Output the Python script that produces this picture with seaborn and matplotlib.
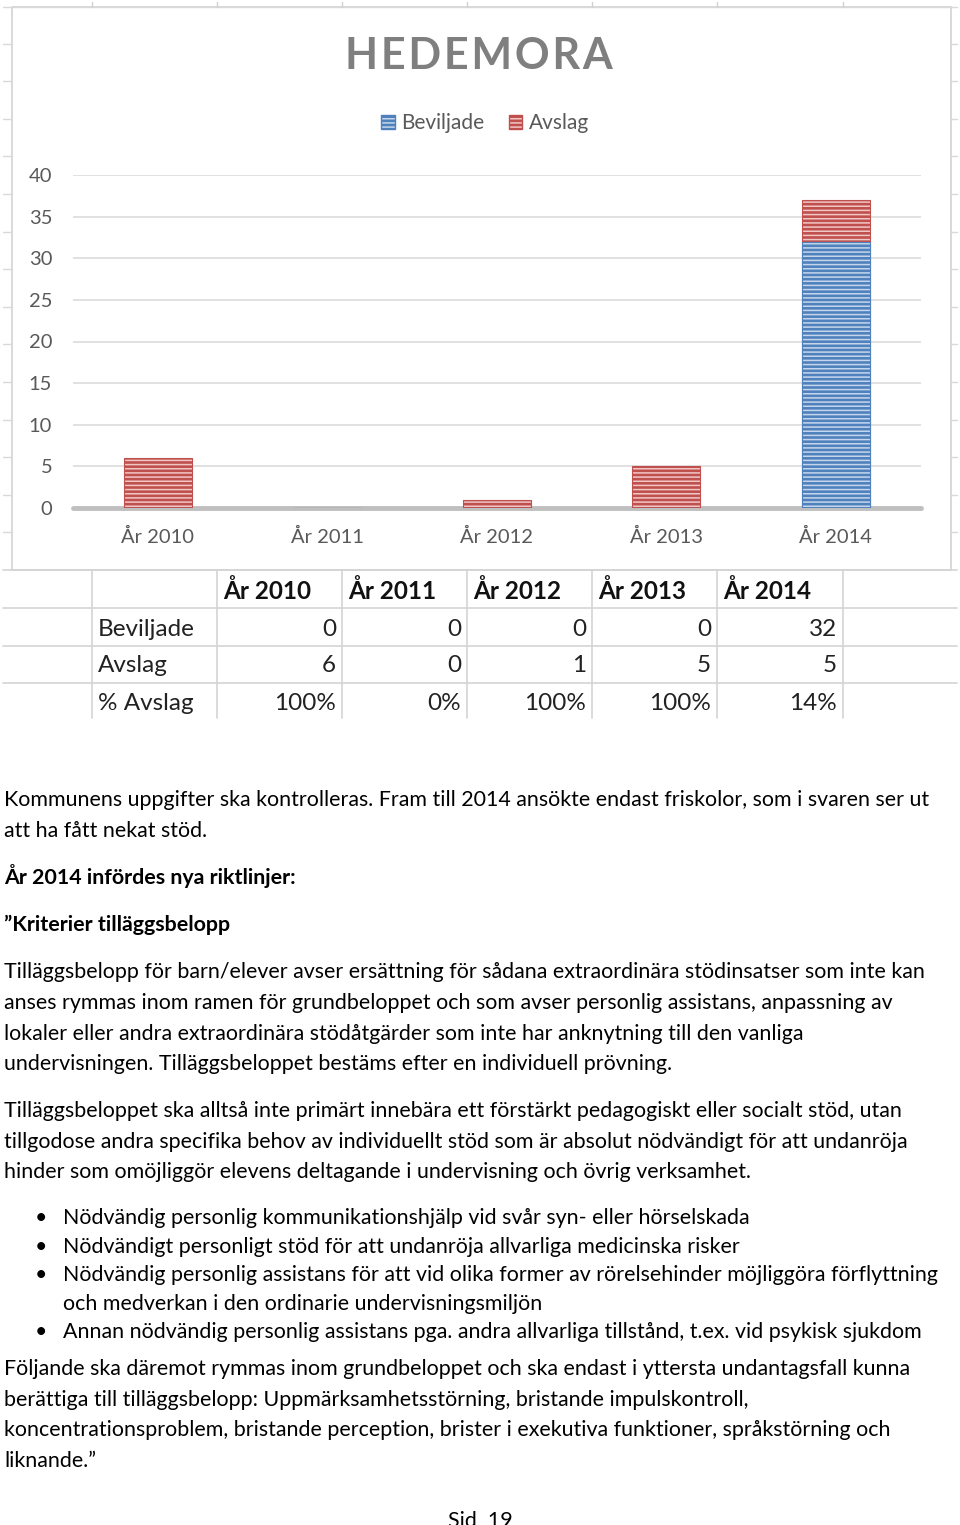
import matplotlib
matplotlib.use("Agg")
import matplotlib.pyplot as plt
from matplotlib.colors import to_rgba
from matplotlib.patches import Patch, Rectangle
import pandas as pd
import seaborn as sns

# chart + table data
years = ["År 2010", "År 2011", "År 2012", "År 2013", "År 2014"]
beviljade = [0, 0, 0, 0, 32]
avslag = [6, 0, 1, 5, 5]
pct_avslag = ["100%", "0%", "100%", "100%", "14%"]
row_labels = ["Beviljade", "Avslag", "% Avslag"]

# page text below the chart: (y centre in px, text, bold, indent)
body_lines = [
    (800, "Kommunens uppgifter ska kontrolleras. Fram till 2014 ansökte endast friskolor, som i svaren ser ut", False, 4),
    (831, "att ha fått nekat stöd.", False, 4),
    (878, "År 2014 infördes nya riktlinjer:", True, 4),
    (925, "”Kriterier tilläggsbelopp", True, 4),
    (972, "Tilläggsbelopp för barn/elever avser ersättning för sådana extraordinära stödinsatser som inte kan", False, 4),
    (1003, "anses rymmas inom ramen för grundbeloppet och som avser personlig assistans, anpassning av", False, 4),
    (1034, "lokaler eller andra extraordinära stödåtgärder som inte har anknytning till den vanliga", False, 4),
    (1064, "undervisningen. Tilläggsbeloppet bestäms efter en individuell prövning.", False, 4),
    (1111, "Tilläggsbeloppet ska alltså inte primärt innebära ett förstärkt pedagogiskt eller socialt stöd, utan", False, 4),
    (1142, "tillgodose andra specifika behov av individuellt stöd som är absolut nödvändigt för att undanröja", False, 4),
    (1172, "hinder som omöjliggör elevens deltagande i undervisning och övrig verksamhet.", False, 4),
    (1218, "Nödvändig personlig kommunikationshjälp vid svår syn- eller hörselskada", False, 63),
    (1247, "Nödvändigt personligt stöd för att undanröja allvarliga medicinska risker", False, 63),
    (1275, "Nödvändig personlig assistans för att vid olika former av rörelsehinder möjliggöra förflyttning", False, 63),
    (1304, "och medverkan i den ordinarie undervisningsmiljön", False, 63),
    (1332, "Annan nödvändig personlig assistans pga. andra allvarliga tillstånd, t.ex. vid psykisk sjukdom", False, 63),
    (1369, "Följande ska däremot rymmas inom grundbeloppet och ska endast i yttersta undantagsfall kunna", False, 4),
    (1400, "berättiga till tilläggsbelopp: Uppmärksamhetsstörning, bristande impulskontroll,", False, 4),
    (1430, "koncentrationsproblem, bristande perception, brister i exekutiva funktioner, språkstörning och", False, 4),
    (1461, "liknande.”", False, 4),
]
bullet_rows = [1218, 1247, 1275, 1332]

W, H = 960, 1525
RED, RED_LIGHT = "#c0504d", "#f1c7c6"
BLUE, BLUE_LIGHT = "#4f81bd", "#c5d6ec"
GRID = "#d9d9d9"
LABEL = "#595959"
BODY_FS = 15.4

sns.set_theme(style="white")
plt.rcParams["font.family"] = ["Lato", "DejaVu Sans"]
plt.rcParams["hatch.linewidth"] = 1.1


def px_box(left, top, right, bottom):
    return [left / W, 1 - bottom / H, (right - left) / W, (bottom - top) / H]


fig = plt.figure(figsize=(W / 100, H / 100), dpi=100)

# page layer in pixel coordinates
page = fig.add_axes([0, 0, 1, 1], zorder=0)
page.set_xlim(0, W)
page.set_ylim(H, 0)
page.axis("off")

# spreadsheet frame around the chart
page.add_patch(Rectangle((12, 7), 939, 563, fill=False, ec="#d0d0d0", lw=1.1))
page.plot([3, 957], [7, 7], color="#d9d9d9", lw=1.0)
for x in [92, 217, 342, 467, 592, 717, 843]:
    page.plot([x, x], [2, 7], color="#d0d0d0", lw=1.0)
for k in range(1, 15):
    y = 570 - k * 37.6
    page.plot([3, 12], [y, y], color="#d9d9d9", lw=1.0)
    page.plot([951, 957], [y, y], color="#d9d9d9", lw=1.0)

# table grid
for y in [570, 608, 646, 683]:
    page.plot([3, 957], [y, y], color="#d4d4d4", lw=1.2)
col_edges = [92, 217, 342, 467, 592, 717, 843]
for x in col_edges:
    page.plot([x, x], [570, 718], color="#d4d4d4", lw=1.2)

table_rows = [beviljade, avslag, pct_avslag]
row_y = [629, 666, 704]
for i, yr in enumerate(years):
    page.text(col_edges[i + 1] + 6, 591, yr, fontsize=17.5, weight="bold",
              color="#111111", ha="left", va="center")
for j, (lab, vals) in enumerate(zip(row_labels, table_rows)):
    page.text(98, row_y[j], lab, fontsize=17.5, color="#222222", ha="left", va="center")
    for i, v in enumerate(vals):
        page.text(col_edges[i + 2] - 6, row_y[j], str(v), fontsize=17.5,
                  color="#222222", ha="right", va="center")

# body text
for y, txt, bold, x in body_lines:
    page.text(x, y + 6, txt, fontsize=BODY_FS, weight="bold" if bold else "normal",
              color="black", ha="left", va="baseline")
for y in bullet_rows:
    page.text(35, y + 6, "•", fontsize=BODY_FS, color="black", ha="left", va="baseline")
page.text(480, 1527, "Sid  19", fontsize=BODY_FS, color="black", ha="center", va="baseline")

# chart
df = pd.DataFrame({"year": years, "Beviljade": beviljade, "Avslag": avslag})
df["total"] = df["Beviljade"] + df["Avslag"]

ax = fig.add_axes(px_box(73, 175, 920.5, 508), zorder=1)
ax.set_facecolor("none")
sns.barplot(data=df, x="year", y="total", color=RED, saturation=1, width=0.4,
            errorbar=None, ax=ax, zorder=2)
sns.barplot(data=df, x="year", y="Beviljade", color=BLUE, saturation=1, width=0.4,
            errorbar=None, ax=ax, zorder=3)

for p in ax.patches:
    is_red = abs(p.get_facecolor()[0] - to_rgba(RED)[0]) < 0.05
    p.set_edgecolor(RED if is_red else BLUE)
    p.set_linewidth(0.8)
    p.set_hatch("----")
    p._hatch_color = to_rgba(RED_LIGHT if is_red else BLUE_LIGHT)

ax.set_ylim(0, 40)
ax.set_yticks(range(0, 41, 5))
ax.yaxis.grid(True, color=GRID, lw=1.1)
ax.set_axisbelow(True)
ax.axhline(0, color="#bfbfbf", lw=3.5, zorder=1.5, clip_on=False)
sns.despine(ax=ax, left=True, bottom=True)
ax.tick_params(axis="y", length=0, pad=15, labelsize=14.5, labelcolor=LABEL)
ax.tick_params(axis="x", length=0, pad=14, labelsize=14.5, labelcolor=LABEL)
ax.set_xlabel("")
ax.set_ylabel("")

fig.text(479 / W, 1 - 56 / H, "\u200a".join("HEDEMORA"), fontsize=31, weight="bold",
         color="#7f7f7f", ha="center", va="center")

handles = [Patch(facecolor=BLUE, edgecolor=BLUE, hatch="----"),
           Patch(facecolor=RED, edgecolor=RED, hatch="----")]
handles[0]._hatch_color = to_rgba(BLUE_LIGHT)
handles[1]._hatch_color = to_rgba(RED_LIGHT)
fig.legend(handles, ["Beviljade", "Avslag"], loc="center",
           bbox_to_anchor=(485 / W, 1 - 123 / H), ncol=2, frameon=False,
           fontsize=15, handlelength=0.65, handleheight=0.65, handletextpad=0.3,
           columnspacing=1.2, labelcolor=LABEL)

fig.savefig("out.png", dpi=100)
